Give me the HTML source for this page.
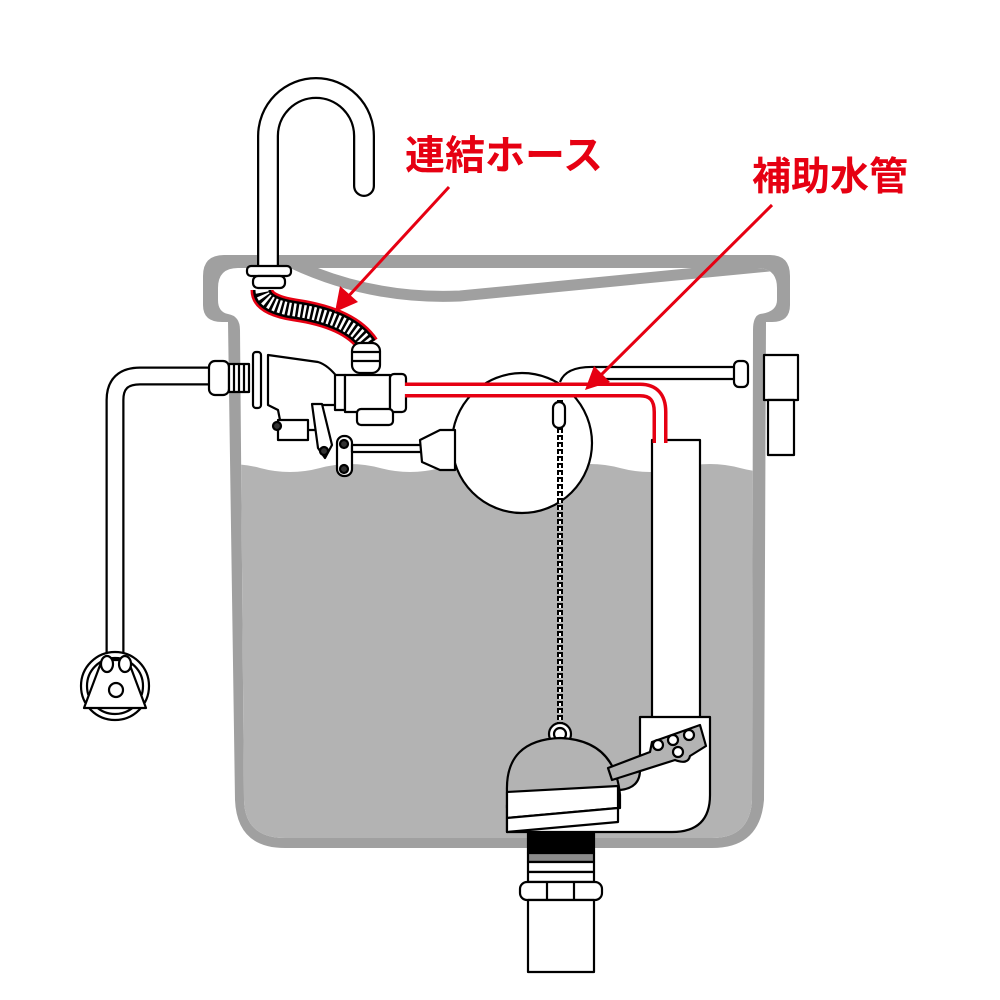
<!DOCTYPE html>
<html><head><meta charset="utf-8"><style>
html,body{margin:0;padding:0;background:#fff}
svg{display:block}
text{font-family:"Liberation Sans","Noto Sans CJK JP",sans-serif;font-weight:bold;fill:#e60012}
</style></head><body>
<svg width="1000" height="1000" viewBox="0 0 1000 1000" xmlns="http://www.w3.org/2000/svg">
<defs>
<clipPath id="inner"><path d="M218,288 Q218,268 238,268 L757,268 Q777,268 777,288 L777,300 Q777,312 760,314 Q753,316 753,330 L752,800 Q750,838 712,838 L285,838 Q245,838 244,800 L240,330 Q240,316 228,314 Q218,312 218,300 Z"/></clipPath>
</defs>
<path d="M203,276 Q203,255 224,255 L770,255 Q790,255 790,276 L790,305 Q790,322 772,322 L766,322 L764,800 Q760,848 712,848 L285,848 Q237,848 235,800 L228,322 L222,322 Q203,322 203,305 Z" fill="#a0a0a0"/>
<path d="M218,288 Q218,268 238,268 L757,268 Q777,268 777,288 L777,300 Q777,312 760,314 Q753,316 753,330 L752,800 Q750,838 712,838 L285,838 Q245,838 244,800 L240,330 Q240,316 228,314 Q218,312 218,300 Z" fill="#fff"/>
<g clip-path="url(#inner)">
<path d="M200,468 Q230,460 260,468 T320,468 T380,468 T440,468 T500,468 T560,468 T620,468 T680,468 T740,468 T800,468 L800,850 L200,850 Z" fill="#b3b3b3"/>
<path d="M290,262 Q370,300 460,296 L790,264" fill="none" stroke="#a0a0a0" stroke-width="11"/>
</g>
<g stroke="#000" stroke-width="2.2" fill="#fff" stroke-linejoin="round">
<path d="M268,268 L268,136 A48,48 0 0 1 364,136 L364,186" fill="none" stroke="#000" stroke-width="22" stroke-linecap="round"/>
<path d="M268,270 L268,136 A48,48 0 0 1 364,136 L364,186" fill="none" stroke="#fff" stroke-width="17.5" stroke-linecap="round"/>
<rect x="247" y="266" width="44" height="10" rx="4"/>
<rect x="253" y="276" width="32" height="12" rx="5"/>
<path d="M262,290 Q262,305 295,310 Q350,318 368,345" fill="none" stroke="#e60012" stroke-width="23"/>
<path d="M262,290 Q262,305 295,310 Q350,318 368,345" fill="none" stroke="#000" stroke-width="18"/>
<path d="M262,290 Q262,305 295,310 Q350,318 368,345" fill="none" stroke="#fff" stroke-width="13" stroke-dasharray="2.5 2.5"/>
<rect x="352" y="343" width="28" height="30" rx="8"/>
<path d="M353,352 H379 M353,361 H379" fill="none"/>
<path d="M215,376 L140,376 Q115,376 115,400 L115,660" fill="none" stroke="#000" stroke-width="19"/>
<path d="M216,376 L140,376 Q115,376 115,400 L115,662" fill="none" stroke="#fff" stroke-width="14.5"/>
<circle cx="115" cy="686" r="34"/>
<circle cx="115" cy="686" r="28"/>
<path d="M102,660 L128,660 L146,708 L84,708 Z"/>
<circle cx="116" cy="690" r="7"/>
<ellipse cx="107" cy="664" rx="6" ry="8"/><ellipse cx="125" cy="664" rx="6" ry="8"/>
<rect x="209" y="361" width="20" height="34" rx="6"/>
<rect x="229" y="364" width="20" height="28"/>
<path d="M234,364 V392 M239,364 V392 M244,364 V392" fill="none"/>
<rect x="253" y="352" width="8" height="56" rx="3"/>
<path d="M268,355 L318,362 Q328,365 338,378 L345,380 L345,405 L318,405 L318,430 L282,430 L278,410 L268,405 Z"/>
<rect x="335" y="375" width="10" height="35"/>
<rect x="345" y="375" width="45" height="37"/>
<rect x="390" y="374" width="16" height="38" rx="4"/>
<rect x="357" y="409" width="36" height="16" rx="4"/>
<rect x="278" y="420" width="30" height="20"/>
<circle cx="277" cy="426" r="4" fill="#333"/>
<path d="M312,404 L322,404 L332,445 L325,458 L318,448 Z"/>
<circle cx="324" cy="451" r="4" fill="#333"/>
<rect x="337" y="436" width="15" height="40" rx="7"/>
<circle cx="344" cy="444" r="4" fill="#333"/><circle cx="344" cy="469" r="4" fill="#333"/>
<rect x="352" y="445" width="70" height="7"/>
<path d="M560,382 Q566,366 595,367" fill="none"/>
<circle cx="522" cy="443" r="70"/>
<path d="M420,440 L440,430 L455,430 L455,470 L440,470 L422,462 Z"/>
<rect x="595" y="367" width="143" height="12"/>
<rect x="734" y="361" width="14" height="26" rx="5"/>
<rect x="764" y="355" width="34" height="45"/>
<rect x="768" y="400" width="26" height="55"/>
<rect x="652" y="440" width="48" height="280" fill="#fff"/>
<path d="M640,717 L710,717 L710,795 Q710,832 672,832 L507,832 L507,805 L620,790 Q640,788 640,770 Z"/>
<path d="M405,390 L640,390 Q660,390 660,412 L660,443" fill="none" stroke="#e60012" stroke-width="15"/>
<path d="M403,390 L640,390 Q660,390 660,412 L660,445" fill="none" stroke="#fff" stroke-width="8"/>
<path d="M560,400 L560,725" fill="none" stroke="#000" stroke-width="6" stroke-dasharray="5 2"/>
<path d="M560,402 L560,725" fill="none" stroke="#fff" stroke-width="2" stroke-dasharray="3 4"/>
<rect x="553" y="402" width="12" height="26" rx="6"/>
<circle cx="560" cy="734" r="11"/><circle cx="560" cy="734" r="6"/>
<path d="M507,808 L507,792 Q505,740 560,738 Q615,740 620,795 L620,808 Z" fill="#b3b3b3"/>
<path d="M507,792 L618,786 L618,808 L507,818 Z" fill="#fff"/>
<path d="M507,818 L507,832 L618,822 L618,808 Z" fill="#fff"/>
<path d="M608,768 L650,752 L652,742 L700,725 L706,746 L690,756 Q688,765 675,760 L612,780 Z" fill="#b3b3b3"/>
<circle cx="658" cy="745" r="5"/><circle cx="673" cy="740" r="5"/><circle cx="689" cy="735" r="5"/><circle cx="678" cy="752" r="5"/>
<rect x="528" y="833" width="66" height="20" fill="#000"/>
<rect x="528" y="853" width="66" height="9" fill="#8c8c8c"/>
<rect x="528" y="862" width="66" height="10"/>
<rect x="528" y="872" width="66" height="10"/>
<rect x="520" y="882" width="82" height="18" rx="7"/>
<path d="M547,882 V900 M574,882 V900" fill="none"/>
<rect x="528" y="900" width="66" height="72"/>
</g>
<text x="405" y="169" font-size="40">連結ホース</text>
<text x="752" y="190" font-size="39">補助水管</text>
<g stroke="#e60012" stroke-width="3" fill="#e60012">
<line x1="449" y1="187" x2="345" y2="300"/>
<polygon points="335,312 340,286 358,302" stroke="none"/>
<line x1="772" y1="205" x2="598" y2="378"/>
<polygon points="585,390 594,366 610,382" stroke="none"/>
</g>
</svg>
</body></html>
